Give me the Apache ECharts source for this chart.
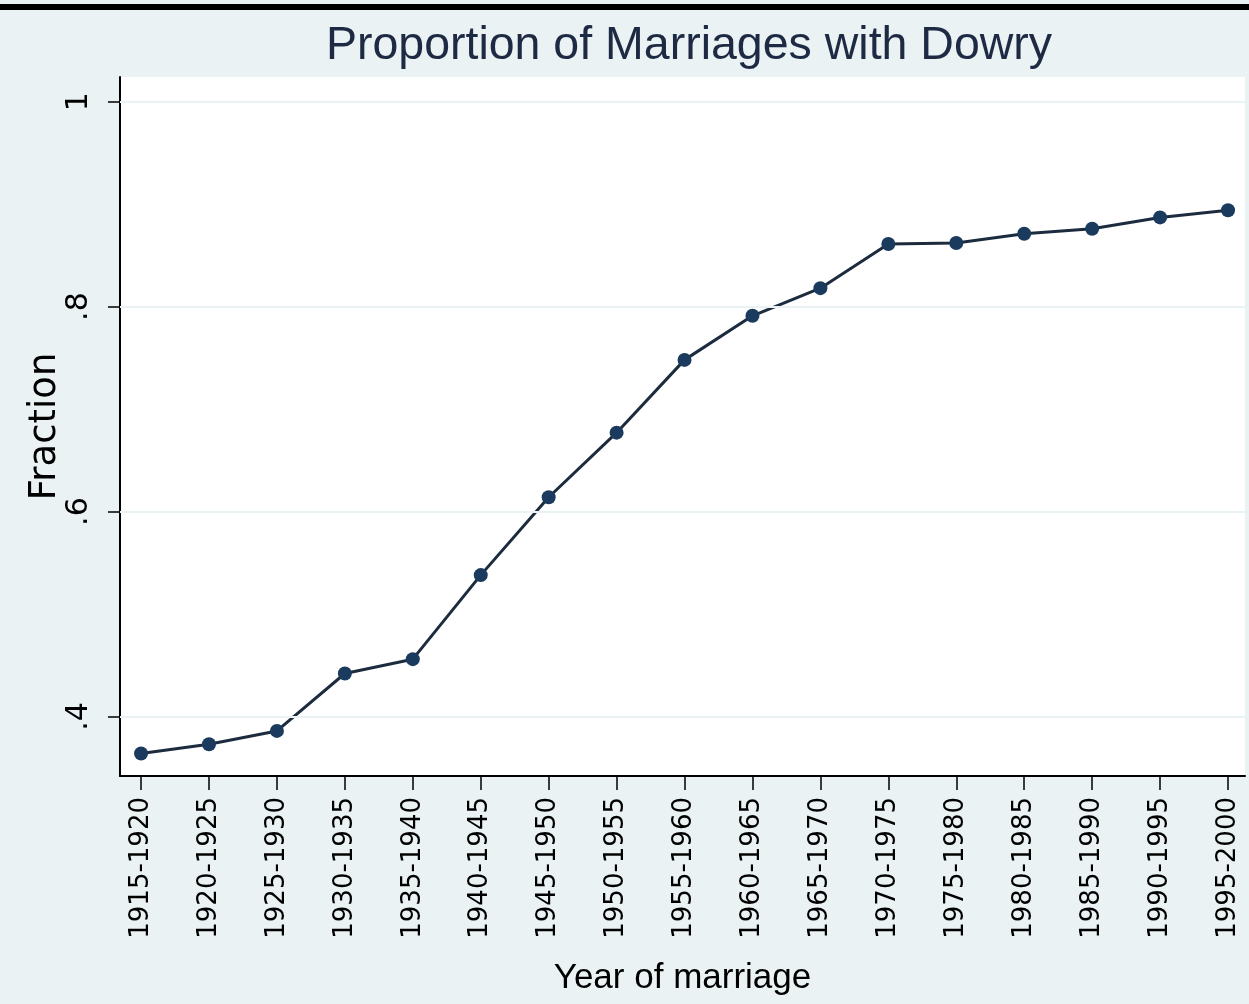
<!DOCTYPE html>
<html><head><meta charset="utf-8">
<script src="https://cdn.jsdelivr.net/npm/echarts@6/dist/echarts.min.js"></script>
<style>html,body{margin:0;padding:0;background:#eaf2f3;overflow:hidden;}#c{width:100vw;height:100vh;}</style>
</head><body><div id="c"></div>
<script>
const categories = ['1915-1920','1920-1925','1925-1930','1930-1935','1935-1940','1940-1945','1945-1950','1950-1955','1955-1960','1960-1965','1965-1970','1970-1975','1975-1980','1980-1985','1985-1990','1990-1995','1995-2000'];
const fraction = [0.364,0.373,0.386,0.442,0.456,0.538,0.614,0.677,0.748,0.791,0.818,0.861,0.862,0.871,0.876,0.887,0.894];
const yTicks = [0.4,0.6,0.8,1];
const yTickLabels = ['.4','.6','.8','1'];

const idx = categories.map((c,i)=>i);
const chart = echarts.init(document.getElementById('c'));
chart.setOption({
  backgroundColor:'#eaf2f3',
  animation:false,
  title:{text:'Proportion of Marriages with Dowry',left:684,textAlign:'center',top:18,
    textStyle:{fontFamily:'Liberation Sans, Arial',fontSize:46.5,fontWeight:'normal',color:'#1e2a44'}},
  graphic:[{type:'rect',shape:{x:0,y:4,width:1249,height:6},style:{fill:'#000'}}],
  grid:{left:120,right:4,top:77,height:699,show:true,backgroundColor:'#ffffff',borderWidth:0},
  xAxis:{type:'value',min:-0.31,max:16.25,
    name:'Year of marriage',nameLocation:'middle',nameGap:185,
    nameTextStyle:{fontFamily:'Liberation Sans, Arial',fontSize:35,color:'#000'},
    axisLine:{show:true,onZero:false,lineStyle:{color:'#000',width:2}},
    axisTick:{show:true,length:14,customValues:idx,lineStyle:{color:'#000',width:1.5}},
    axisLabel:{customValues:idx,rotate:90,margin:21,fontFamily:'DejaVu Sans',fontSize:26,color:'#000',
      formatter:v=>categories[Math.round(v)]},
    splitLine:{show:false}},
  yAxis:{type:'value',min:0.342,max:1.024,
    name:'Fraction',nameLocation:'middle',nameGap:56,nameRotate:90,nameMoveOverlap:false,
    nameTextStyle:{fontFamily:'DejaVu Sans',fontSize:37,color:'#000'},
    axisLine:{show:true,onZero:false,lineStyle:{color:'#000',width:2}},
    axisTick:{show:true,length:12,customValues:yTicks,lineStyle:{color:'#000',width:1.5}},
    axisLabel:{customValues:yTicks,rotate:90,margin:26,fontFamily:'DejaVu Sans',fontSize:30,color:'#000',
      formatter:v=>yTickLabels[yTicks.findIndex(t=>Math.abs(t-v)<1e-6)]},
    splitLine:{show:false}},
  series:[{type:'line',data:fraction.map((v,i)=>[i,v]),
    lineStyle:{color:'#1c2c3e',width:3},
    itemStyle:{color:'#1a3a5e'},symbol:'circle',symbolSize:14,
    markLine:{silent:true,symbol:'none',label:{show:false},
      lineStyle:{color:'#eaf2f3',width:2,type:'solid'},
      data:yTicks.map(t=>({yAxis:t}))},
    z:3}]
});
window.addEventListener('resize',()=>chart.resize());
</script></body></html>
